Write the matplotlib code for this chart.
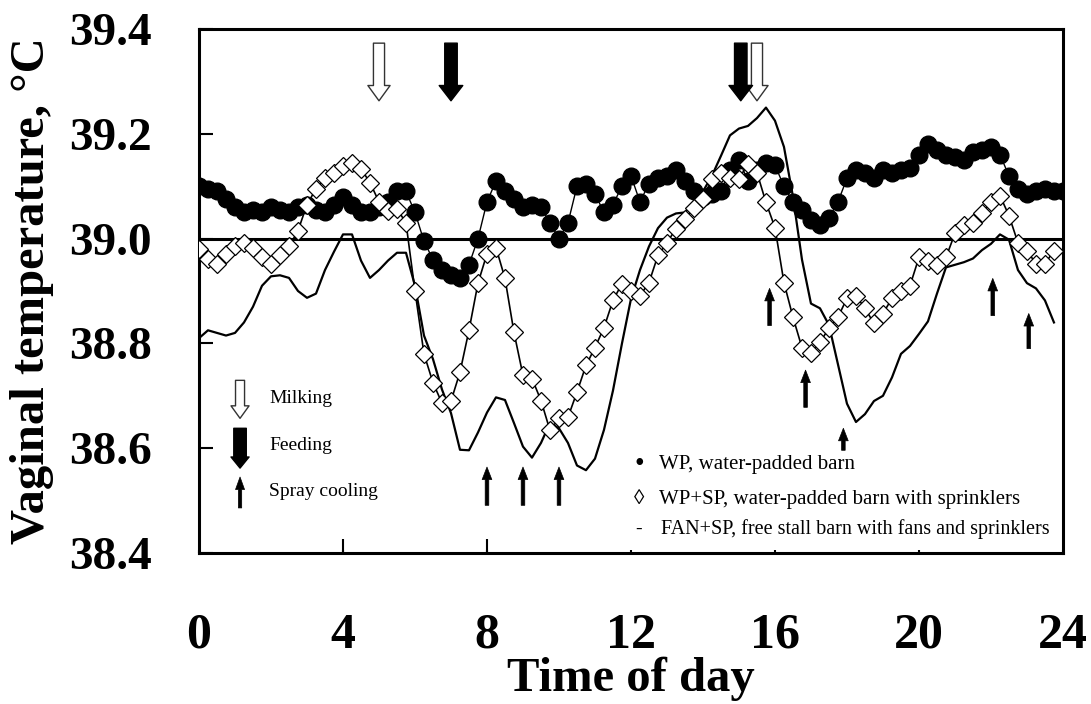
import matplotlib
matplotlib.use("Agg")
import matplotlib.pyplot as plt
import numpy as np

plt.rcParams['font.family'] = ['Liberation Serif', 'DejaVu Serif']

# vaginal temperature, 15-min means over the day
wp = [39.10, 39.095, 39.09, 39.075, 39.06, 39.05, 39.055, 39.05, 39.06, 39.055,
      39.05, 39.06, 39.065, 39.055, 39.05, 39.065, 39.08, 39.065, 39.05, 39.05,
      39.06, 39.07, 39.09, 39.09, 39.05, 38.995, 38.96, 38.94, 38.93, 38.925,
      38.95, 39.00, 39.07, 39.11, 39.09, 39.075, 39.06, 39.065, 39.06, 39.03,
      39.00, 39.03, 39.10, 39.105, 39.085, 39.05, 39.065, 39.10, 39.12, 39.07,
      39.105, 39.115, 39.12, 39.13, 39.11, 39.09, 39.08, 39.085, 39.09, 39.13,
      39.15, 39.11, 39.13, 39.145, 39.14, 39.10, 39.07, 39.055, 39.035, 39.025,
      39.04, 39.07, 39.115, 39.13, 39.125, 39.115, 39.13, 39.125, 39.13, 39.135,
      39.16, 39.18, 39.17, 39.16, 39.155, 39.15, 39.165, 39.17, 39.175, 39.16,
      39.12, 39.095, 39.085, 39.09, 39.095, 39.09, 39.09]

wp_sp = [38.98, 38.962, 38.952, 38.97, 38.985, 38.992, 38.983, 38.965, 38.952, 38.968,
         38.985, 39.015, 39.065, 39.095, 39.115, 39.126, 39.139, 39.145, 39.133, 39.107,
         39.07, 39.053, 39.057, 39.03, 38.90, 38.78, 38.725, 38.686, 38.69, 38.745,
         38.825, 38.915, 38.971, 38.983, 38.924, 38.821, 38.739, 38.733, 38.691, 38.634,
         38.657, 38.659, 38.707, 38.758, 38.792, 38.83, 38.882, 38.914, 38.90, 38.891,
         38.916, 38.968, 38.992, 39.019, 39.038, 39.059, 39.076, 39.114, 39.126, 39.116,
         39.114, 39.143, 39.126, 39.069, 39.021, 38.916, 38.85, 38.792, 38.781, 38.802,
         38.829, 38.85, 38.886, 38.891, 38.867, 38.838, 38.857, 38.886, 38.90, 38.91,
         38.964, 38.958, 38.949, 38.964, 39.01, 39.025, 39.03, 39.048, 39.069, 39.082,
         39.044, 38.992, 38.977, 38.952, 38.952, 38.977]

fan_sp = [38.81, 38.825, 38.82, 38.815, 38.82, 38.84, 38.87, 38.91, 38.928, 38.93,
          38.925, 38.90, 38.887, 38.895, 38.94, 38.975, 39.008, 39.008, 38.958, 38.925,
          38.94, 38.958, 38.973, 38.973, 38.91, 38.815, 38.77, 38.712, 38.667, 38.597,
          38.596, 38.63, 38.668, 38.697, 38.692, 38.648, 38.603, 38.582, 38.61, 38.648,
          38.638, 38.61, 38.567, 38.558, 38.58, 38.635, 38.71, 38.80, 38.885, 38.94,
          38.985, 39.02, 39.04, 39.048, 39.05, 39.07, 39.09, 39.12, 39.158, 39.197,
          39.21, 39.215, 39.23, 39.25, 39.225, 39.175, 39.08, 38.96, 38.876, 38.867,
          38.835, 38.76, 38.685, 38.65, 38.665, 38.69, 38.70, 38.735, 38.78, 38.795,
          38.818, 38.842, 38.895, 38.945, 38.95, 38.955, 38.962, 38.978, 38.99, 39.008,
          38.998, 38.94, 38.915, 38.905, 38.882, 38.84]

hours = np.arange(0, 24.01, 0.25)

# management events (hour of day)
milking = [5.0, 15.5]
feeding = [7.0, 15.05]
# spray cooling: hour, arrow tip, arrow tail (deg C)
spray_hour = [8.0, 9.0, 10.0, 15.85, 16.85, 17.9, 22.05, 23.05]
spray_tip = [38.564, 38.564, 38.564, 38.905, 38.749, 38.638, 38.924, 38.857]
spray_tail = [38.491, 38.491, 38.491, 38.834, 38.678, 38.596, 38.853, 38.79]

fig = plt.figure(figsize=(10.91, 7.04), dpi=100)
ax = fig.add_axes([0.1824, 0.2145, 0.7919, 0.7443])

ax.axhline(39.0, color='black', lw=2.2, zorder=1)
ax.plot(hours[:len(wp)], wp, color='black', lw=1, marker='o', ms=12,
        mfc='black', mec='black', zorder=2)
ax.plot(hours[:len(fan_sp)], fan_sp, color='black', lw=1.6, zorder=3)
ax.plot(hours[:len(wp_sp)], wp_sp, color='black', lw=1.2, marker='D', ms=9.5,
        mfc='white', mec='black', mew=0.9, zorder=4)


def arrow(x, y0, y1, fc, ec, tail, head, hlen, lw=1.0):
    ax.annotate('', xy=(x, y1), xytext=(x, y0),
                arrowprops=dict(arrowstyle=f'simple,head_length={hlen},head_width={head},tail_width={tail}',
                                fc=fc, ec=ec, lw=lw, shrinkA=0, shrinkB=0, mutation_scale=1),
                zorder=6)


for h in milking:
    arrow(h, 39.373, 39.263, 'white', '#333333', 8, 16, 11)
for h in feeding:
    arrow(h, 39.373, 39.263, 'black', 'black', 9, 17, 11)
for h, tip, tail in zip(spray_hour, spray_tip, spray_tail):
    arrow(h, tail, tip, 'black', 'black', 2.6, 7, 9, lw=0.5)

# key for the event arrows
arrow(1.14, 38.7295, 38.657, 'white', '#333333', 6.5, 13, 9)
arrow(1.14, 38.638, 38.562, 'black', 'black', 9, 13, 8)
arrow(1.14, 38.486, 38.545, 'black', 'black', 2.4, 6.5, 9, lw=0.5)
ax.text(1.95, 38.695, 'Milking', fontsize=14, va='center')
ax.text(1.95, 38.606, 'Feeding', fontsize=14, va='center')
ax.text(1.95, 38.518, 'Spray cooling', fontsize=14, va='center')

# key for the barns
ax.text(12.22, 38.568, '\u2022', fontsize=20, va='center', ha='center')
ax.text(12.22, 38.503, '\u25ca', fontsize=15, va='center', ha='center')
ax.text(12.22, 38.446, '-', fontsize=14, va='center', ha='center')
ax.text(12.78, 38.568, 'WP, water-padded barn', fontsize=15, va='center')
ax.text(12.78, 38.503, 'WP+SP, water-padded barn with sprinklers', fontsize=15, va='center')
ax.text(12.84, 38.446, 'FAN+SP, free stall barn with fans and sprinklers', fontsize=14.5, va='center')

ax.set_xlim(0, 24)
ax.set_ylim(38.4, 39.4)
ax.xaxis.remove_overlapping_locs = False
ax.set_xticks([0, 4, 8, 12, 16, 20, 24])
ax.set_xticks([4, 8], minor=True)
ax.set_yticks([38.4, 38.6, 38.8, 39.0, 39.2, 39.4])
ax.set_yticklabels(['38.4', '38.6', '38.8', '39.0', '39.2', '39.4'])
ax.tick_params(axis='x', which='major', direction='in', length=2.5, width=1.5,
               pad=43, labelsize=36)
ax.tick_params(axis='x', which='minor', direction='in', length=10, width=1.5)
ax.tick_params(axis='y', direction='in', length=10, width=1.5, pad=34, labelsize=34)
for lab in ax.get_xticklabels() + ax.get_yticklabels():
    lab.set_fontweight('bold')
for sp in ax.spines.values():
    sp.set_linewidth(2.2)

ax.set_xlabel('Time of day', fontsize=35, fontweight='bold')
ax.xaxis.set_label_coords(0.5, -0.198)
ax.xaxis.label.set_va('top')
ax.set_ylabel('Vaginal temperature, \u00b0C', fontsize=35, fontweight='bold')
ax.yaxis.set_label_coords(-0.168, 0.5)

fig.savefig('out.png', dpi=100)
